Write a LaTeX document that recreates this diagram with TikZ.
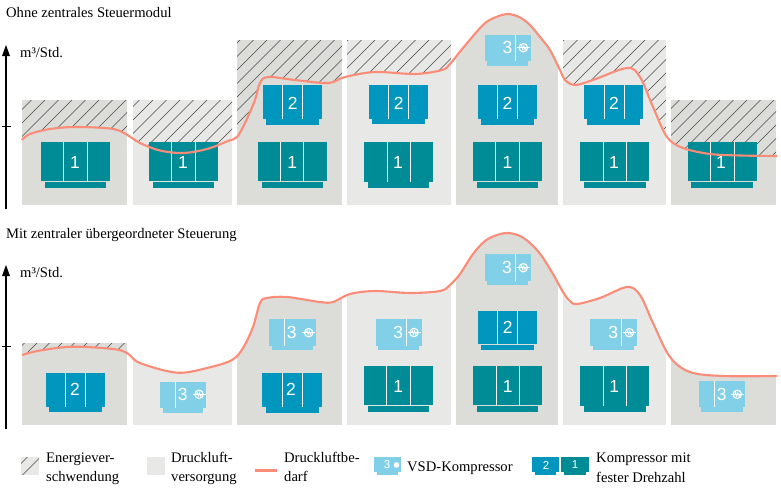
\documentclass[tikz,border=0pt]{standalone}
\usepackage{fontspec}
\setmainfont{Liberation Serif}
\newfontfamily\digitfont{Liberation Sans}
\definecolor{cteal}{HTML}{008C96}
\definecolor{cblue}{HTML}{0096BE}
\definecolor{cvsd}{HTML}{82D0E8}
\definecolor{ccurve}{HTML}{FA8C78}
\definecolor{cdark}{HTML}{DCDCD8}
\definecolor{clight}{HTML}{E8E8E6}
\definecolor{chatch}{HTML}{4A4A4A}
\tikzset{
  curveline/.style={draw=ccurve,line width=2.1pt},
  hatchline/.style={draw=chatch,line width=.6pt},
  divline/.style={draw=white!90!cdark,line width=.8pt},
  axisline/.style={draw=black,line width=1.4pt},
  txt/.style={anchor=base west,inner sep=0pt,font=\fontsize{14.6}{14.6}\selectfont},
  digit/.style={text=white,inner sep=0pt,font=\digitfont\fontsize{17.5}{17.5}\selectfont},
  smalldigit/.style={text=white,inner sep=0pt,font=\digitfont\fontsize{11.5}{11.5}\selectfont},
}
\def\curveA{plot[smooth,tension=.55] coordinates {(22,140) (30,134) (50,129) (75,127) (110,128.5) (124,133) (140,143) (160,150.5) (183,153) (207,149) (228,141) (237,137) (245,123) (255,100) (260,83) (268,77) (295,80) (328,83) (345,77) (375,72) (415,74) (442,70) (450,64) (463,48) (483,25) (495,17.5) (508,14) (520,17.5) (530,25) (540,37) (550,50) (560,70) (565,80) (575,85) (593,80) (627,68) (640,77) (653,107) (667,137) (683,148) (710,154) (740,155.5) (777,156)}}
\def\curveB{plot[smooth,tension=.55] coordinates {(22,355) (40,350.5) (73,346.7) (113,349) (127,353) (140,363) (177,372.7) (207,368) (232,360) (243,348) (253,327) (260,303) (267,298) (287,297) (320,302) (333,302) (350,294) (375,291) (410,293) (440,291) (450,285) (460,274) (473,254) (485,241) (497,235) (508,233) (520,236) (530,243) (541,255) (553,274) (563,292) (570,301) (577,304) (600,298) (627,287) (640,295) (653,323) (670,357) (690,372) (723,376) (777,376)}}
\newcommand{\vsdsym}[2]{%
  \draw[white,line width=1.1pt] (#1,#2) circle (4.2);
  \draw[white,line width=.7pt] (#1-6.5,#2) -- (#1+6.5,#2);
  \draw[white,line width=.6pt] (#1-2.7,#2) -- (#1-1.6,#2-2.2) -- (#1-.5,#2+2.2) -- (#1+.5,#2-2.2) -- (#1+1.6,#2+2.2) -- (#1+2.7,#2);
}
\begin{document}
\begin{tikzpicture}[x=1pt,y=-1pt]
\useasboundingbox (0,0) rectangle (781,491);
\fill[white] (0,0) rectangle (781,491);

% ---------- panel 1: columns
\begin{scope}
  \clip \curveA -- (777,210) -- (22,210) -- cycle;
  \foreach \xa/\xb/\cc in {22/127/cdark,133/232/clight,237/342/cdark,347/451/clight,456/558/cdark,563/666/clight,671/776/cdark}{
    \fill[\cc] (\xa,0) rectangle (\xb,205);
  }
\end{scope}
% hatching above the demand curve
\begin{scope}
  \clip \curveA -- (777,0) -- (22,0) -- cycle;
  \foreach \xa/\xb/\ya/\cc in {22/127/100/cdark,133/232/100/clight,237/342/40/cdark,347/451/40/clight,563/666/40/clight,671/776/100/cdark}{
    \fill[\cc] (\xa,\ya) rectangle (\xb,205);
    \begin{scope}
      \clip (\xa,\ya) rectangle (\xb,205);
      \foreach \k in {-200,-186.5,...,800}{\draw[hatchline] (\k,210) -- (\k+210,0);}
    \end{scope}
  }
\end{scope}

% ---------- panel 2: columns
\begin{scope}
  \clip \curveB -- (777,430) -- (22,430) -- cycle;
  \foreach \xa/\xb/\cc in {22/127/cdark,133/232/clight,237/342/cdark,347/451/clight,456/558/cdark,563/666/clight,671/776/cdark}{
    \fill[\cc] (\xa,220) rectangle (\xb,425);
  }
\end{scope}
\begin{scope}
  \clip \curveB -- (777,220) -- (22,220) -- cycle;
  \fill[cdark] (22,343) rectangle (127,425);
  \clip (22,343) rectangle (127,425);
  \foreach \k in {-200,-187.5,...,300}{\draw[hatchline] (\k,430) -- (\k+210,220);}
\end{scope}

% ---------- fixed-speed compressors
\foreach \cC/\xA/\xB/\yA/\yB/\bA/\bB/\bC/\bD/\dA/\dB/\nX/\nY/\nN in {
  cteal/41/110/142/181/45/106/182/188/63.5/87/75/162/1,
  cteal/149/218/142/181/153/214/182/188/171.7/195/183/162/1,
  cteal/258/327/142/181/262/323/182/188/280.3/303.3/292.3/162/1,
  cblue/263/322/85/118.7/266/319/118.7/125/282.3/302.3/292.7/103/2,
  cteal/364/433/142/182/368/429/182/188/387/410.3/398/162/1,
  cblue/369/428/85/118.7/372/425/118.7/123.7/388.3/408/398.7/103/2,
  cteal/473/542/142/181/477/538/182/188/495.5/519/507.5/162/1,
  cblue/478/537/85/118.7/481/534/118.7/125/497.3/517.3/507.5/103/2,
  cteal/580/649/142/181/584/646/182/188/603.3/626.7/614/162/1,
  cblue/584/643/85/118.7/587/640/118.7/125/604/624/614/103/2,
  cteal/688/757/142/181/691/753/182/188/710.5/734/721/162/1,
  cblue/46/105/373/406.7/49/102/406.7/412/65.3/85.7/75/389.7/2,
  cblue/262/322/373/406.7/266/319/406.7/413/282.7/302.7/291/389.7/2,
  cteal/364/433/366/405/368/429/406/412/386.7/410/398.3/386/1,
  cteal/473/542/366/405/477/538/406/412/496/519/507.7/386/1,
  cblue/478/537/311/344/481/534/345/350/497.7/517.7/507.7/327.7/2,
  cteal/580/649/366/406/584/646/406/412/603.7/626.7/614.3/386/1%
}{
  \fill[\cC] (\xA,\yA) rectangle (\xB,\yB);
  \fill[\cC] (\bA,\bC) rectangle (\bB,\bD);
  \draw[divline] (\dA,\yA) -- (\dA,\yB);
  \draw[divline] (\dB,\yA) -- (\dB,\yB);
  \node[digit] at (\nX,\nY) {\nN};
}

% ---------- VSD compressors
\foreach \xA/\xB/\yA/\yB/\bA/\bB/\bD/\dA/\nX/\nY/\sX in {
  485/531/35/60.7/487/528/65.7/515.3/507.5/47.7/523.3,
  160/205.7/382/408/163/202.7/412.7/175.3/182.7/394.3/199,
  269/316/319/345.7/272/313/350/284.3/291.7/332.7/308.7,
  376/422/319/345.7/378/419/350/406.3/398.3/332.5/414,
  485/531/254/280.7/487/528/285/515.3/507/267.7/523.3,
  590/637/319/345.7/593/634/350/621.3/613.3/332.7/629.3,
  699/745/381/406.7/701/743/412/714.3/721.7/394.3/737.3%
}{
  \fill[cvsd] (\xA,\yA) rectangle (\xB,\yB);
  \fill[cvsd] (\bA,\yB) rectangle (\bB,\bD);
  \draw[divline] (\dA,\yA) -- (\dA,\yB);
  \node[digit] at (\nX,\nY) {3};
  \vsdsym{\sX}{\nY}
}

% ---------- demand curves
\draw[curveline] \curveA;
\draw[curveline] \curveB;

% ---------- axes
\coordinate (a1b) at (6,209); \coordinate (a1t) at (6,45);
\coordinate (t1a) at (2,126); \coordinate (t1b) at (11,126);
\coordinate (a2b) at (6,429); \coordinate (a2t) at (6,265);
\coordinate (t2a) at (2,346); \coordinate (t2b) at (11,346);
\draw[axisline] (a1b) -- (6,54);
\fill (a1t) -- (10,56) -- (2,56) -- cycle;
\draw[line width=1pt] (t1a) -- (t1b);
\draw[axisline] (a2b) -- (6,274);
\fill (a2t) -- (10,276) -- (2,276) -- cycle;
\draw[line width=1pt] (t2a) -- (t2b);

% ---------- titles
\node[txt] (title1) at (6,17) {Ohne zentrales Steuermodul};
\node[txt] (title2) at (6,238) {Mit zentraler übergeordneter Steuerung};
\node[txt] (unit1) at (20,57) {m³/Std.};
\node[txt] (unit2) at (20,277) {m³/Std.};

% ---------- legend
\fill[clight] (21,457) rectangle (39,475);
\begin{scope}
  \clip (21,457) rectangle (39,475);
  \foreach \k in {-4,9.5,22.5}{\draw[hatchline] (\k,475) -- (\k+18,457);}
\end{scope}
\fill[clight] (147,457) rectangle (165,475);
\coordinate (l1) at (255,470.5); \coordinate (l2) at (277,470.5);
\draw[curveline] (l1) -- (l2);
\node[txt] (le1) at (46,462) {Energiever-};
\node[txt] (le2) at (46,481) {schwendung};
\node[txt] (ld1) at (171,462) {Druckluft-};
\node[txt] (ld2) at (171,481) {versorgung};
\node[txt] (lb1) at (284,462) {Druckluftbe-};
\node[txt] (lb2) at (284,481) {darf};
\fill[cvsd] (374,457) rectangle (401,472);
\fill[cvsd] (377,472) rectangle (398,475);
\node[smalldigit] at (387,465) {3};
\fill[white] (396.5,465) circle (2.8);
\node[txt] (lv) at (407,471) {VSD-Kompressor};
\fill[cblue] (532,457) rectangle (559,472);
\fill[cblue] (535,472) rectangle (556,475);
\node[smalldigit] at (546,465) {2};
\fill[cteal] (561,457) rectangle (589,472);
\fill[cteal] (564,472) rectangle (586,475);
\node[smalldigit] at (575,465) {1};
\node[txt] (lk1) at (596,462) {Kompressor mit};
\node[txt] (lk2) at (596,482) {fester Drehzahl};
\end{tikzpicture}
\end{document}
